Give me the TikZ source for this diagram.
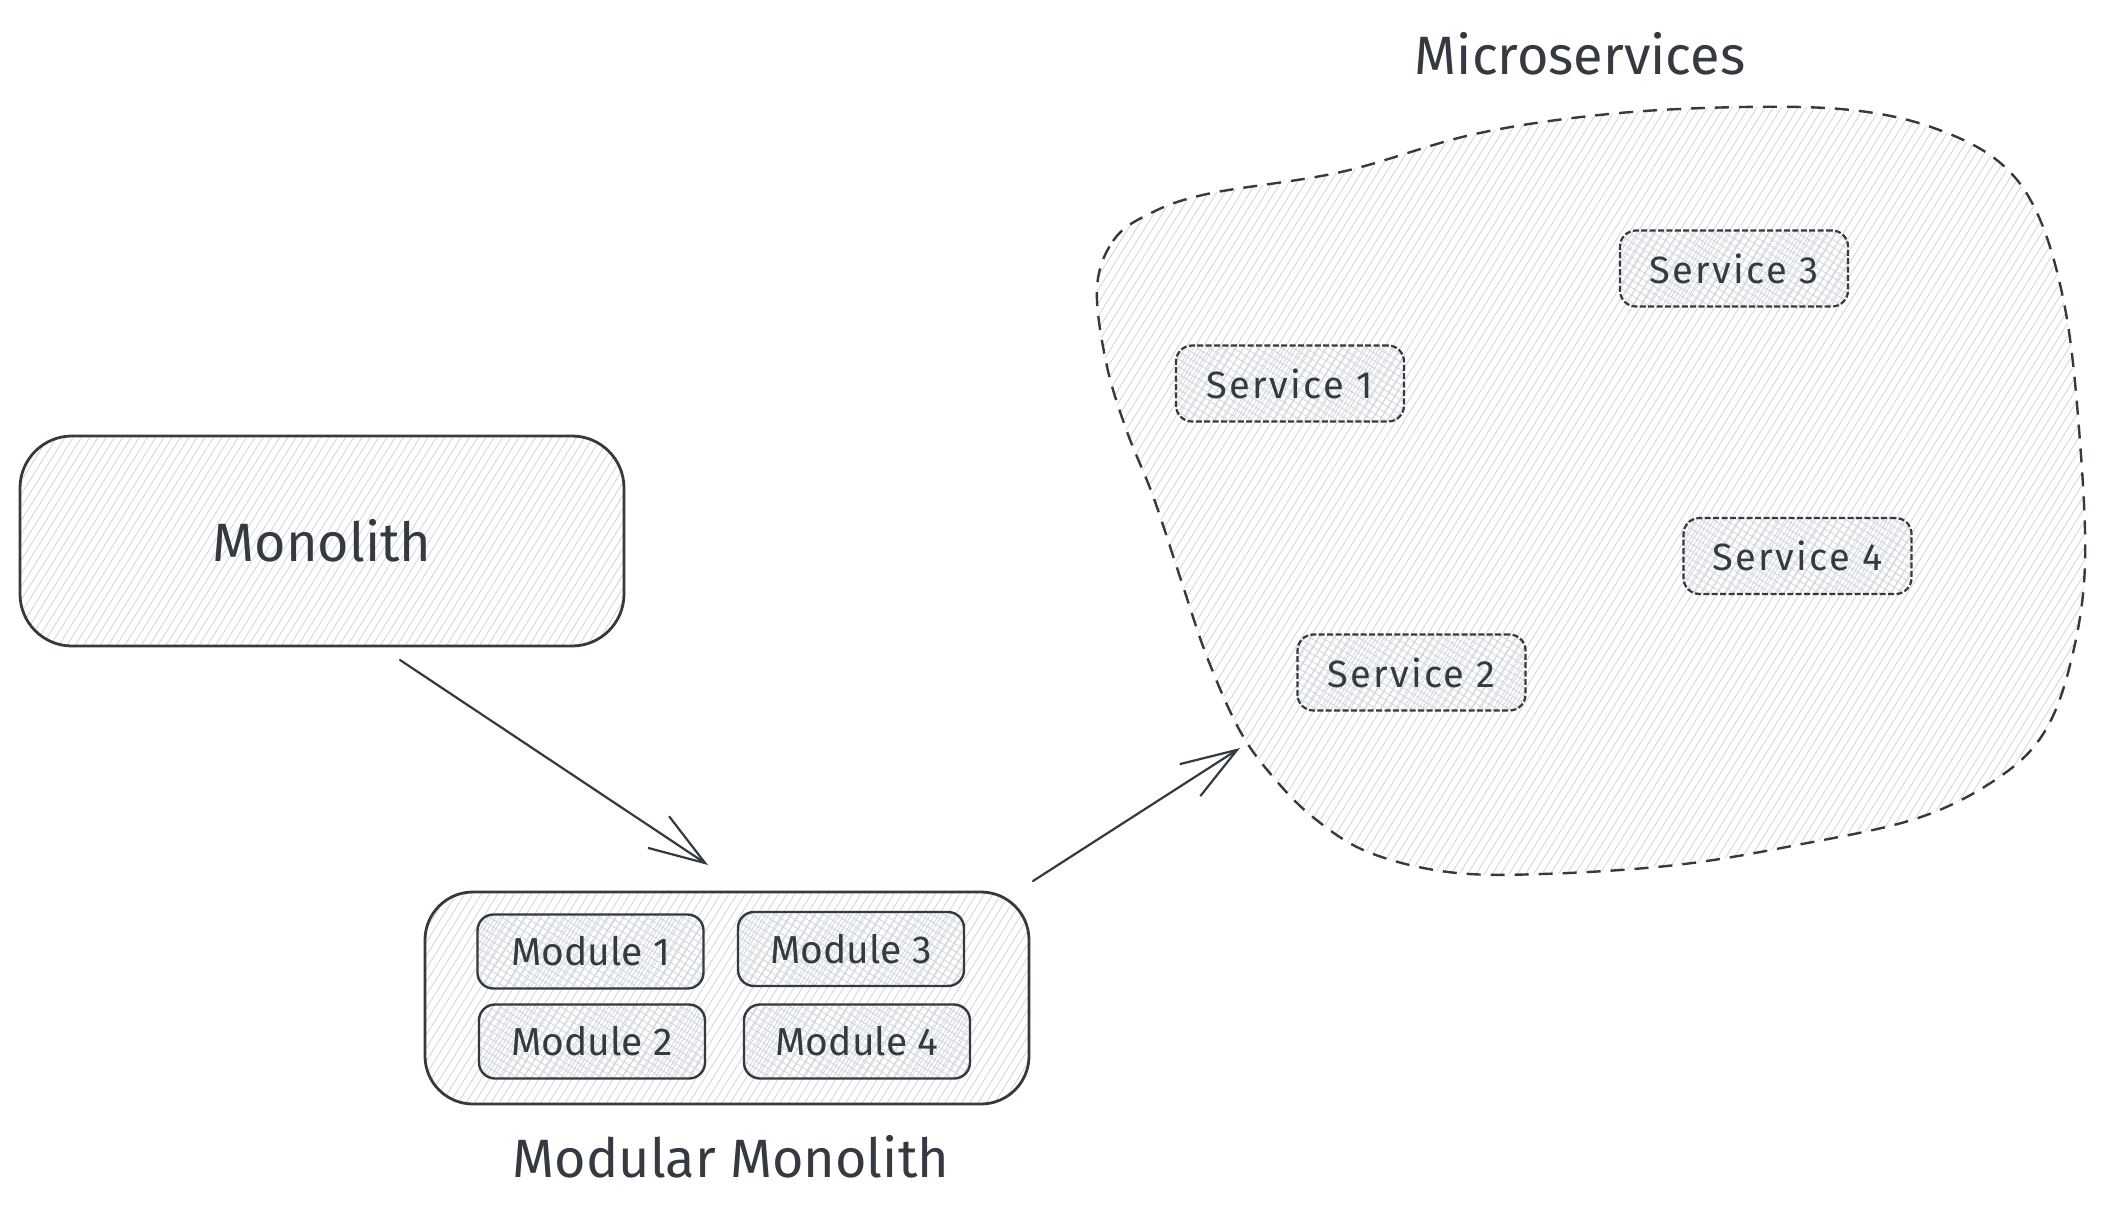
\documentclass[tikz,border=0pt]{standalone}
\usepackage{fontspec}
\setmainfont{Fira Sans}
\usetikzlibrary{arrows.meta,patterns.meta,calc}
\definecolor{ink}{HTML}{343A40}
\definecolor{hatch}{HTML}{D3D8DD}
\begin{document}
\begin{tikzpicture}[x=0.5pt,y=-0.5pt,
  every node/.style={text=ink},
  hach/.style={pattern={Lines[angle=58,distance=3.5pt,line width=0.45pt]}, pattern color=hatch},
  cross/.style={preaction={pattern={Lines[angle=58,distance=3.2pt,line width=0.45pt]}, pattern color=hatch},
                pattern={Lines[angle=-32,distance=3.2pt,line width=0.45pt]}, pattern color=hatch},
  bigbox/.style={draw=ink, line width=1.4pt, rounded corners=26pt, hach, inner sep=0pt},
  modbox/.style={draw=ink, line width=1.2pt, rounded corners=8pt, cross, inner sep=0pt,
                 minimum width=113pt, minimum height=37pt, font=\fontsize{19.5}{23}\selectfont},
  svcbox/.style={draw=ink, line width=1.1pt, dash pattern=on 3pt off 1.2pt, rounded corners=8pt, cross,
                 inner sep=0pt, minimum width=114pt, minimum height=38pt, font=\addfontfeatures{LetterSpace=6}\fontsize{19}{23}\selectfont},
  title/.style={font=\fontsize{27}{32}\selectfont, inner sep=0pt},
  arr/.style={draw=ink, line width=1.1pt, line cap=round, line join=round,
              -{Straight Barb[length=28pt,width=19pt,line width=1.1pt]}},
]
\fill[white] (0,0) rectangle (2103,1215);
\useasboundingbox (0,0) rectangle (2103,1215);

% Microservices blob
\draw[ink, line width=1.2pt, dash pattern=on 7pt off 5pt, hach]
  plot[smooth cycle, tension=0.6] coordinates {
  (1097,288) (1113,241) (1147,215) (1207,194) (1341,172) (1475,134) (1609,114)
  (1743,107) (1851,110) (1931,127) (1998,161) (2038,215) (2065,308) (2079,429)
  (2085,563) (2072,657) (2045,731) (1998,778) (1918,818) (1797,845) (1676,865)
  (1542,874) (1448,872) (1368,852) (1314,818) (1274,778) (1240,731) (1207,657)
  (1180,577) (1153,496) (1126,429) (1106,362)};
\node[title] (mstitle) at (1580,54) {Microservices};

% Services
\node[svcbox] (s3) at (1734,268.5) {Service 3};
\node[svcbox] (s1) at (1290,383.5) {Service 1};
\node[svcbox] (s4) at (1797.5,556) {Service 4};
\node[svcbox] (s2) at (1411.5,672.5) {Service 2};

% Monolith
\node[bigbox, minimum width=302pt, minimum height=105pt, font=\fontsize{27}{32}\selectfont] (mono) at (322,541) {Monolith};

% Modular monolith
\node[bigbox, minimum width=302pt, minimum height=106pt, rounded corners=24pt] (modular) at (727,998) {};
\node[modbox] (m1) at (590.5,951.5) {Module 1};
\node[modbox] (m3) at (851,949) {Module 3};
\node[modbox] (m2) at (592,1041.5) {Module 2};
\node[modbox] (m4) at (857,1041.5) {Module 4};
\node[title] (mmtitle) at (731,1157) {Modular Monolith};

% Arrows
\coordinate (a1s) at (400,660);
\coordinate (a1e) at (708,865);
\coordinate (a2s) at (1033,881);
\coordinate (a2e) at (1240,748);
\draw[arr] (a1s) -- (a1e);
\draw[arr] (a2s) -- (a2e);
\end{tikzpicture}
\end{document}
